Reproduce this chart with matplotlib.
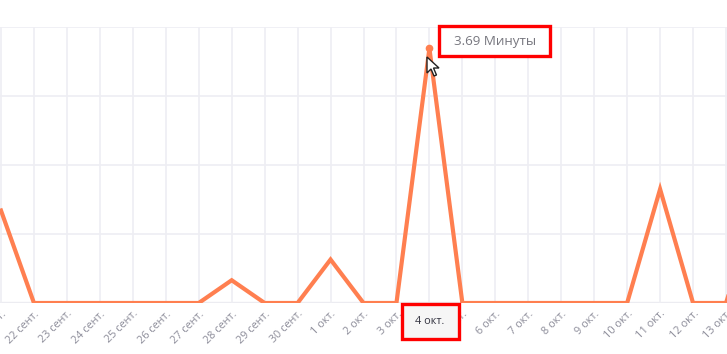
import matplotlib
matplotlib.use("Agg")
import matplotlib.pyplot as plt
from matplotlib.patches import Rectangle, Polygon

plt.rcParams['font.family'] = ['Open Sans', 'DejaVu Sans']

dates = ["21 сент.", "22 сент.", "23 сент.", "24 сент.", "25 сент.", "26 сент.",
         "27 сент.", "28 сент.", "29 сент.", "30 сент.", "1 окт.", "2 окт.",
         "3 окт.", "4 окт.", "5 окт.", "6 окт.", "7 окт.", "8 окт.", "9 окт.",
         "10 окт.", "11 окт.", "12 окт.", "13 окт.", "14 окт."]
minutes = [1.34, 0, 0, 0, 0, 0, 0, 0.33, 0, 0, 0.63, 0, 0, 3.69, 0, 0, 0, 0, 0,
           0, 1.65, 0, 0, 1.5]
highlight_idx = 13
tooltip_text = "3.69 Минуты"

W, H = 727, 354
fig = plt.figure(figsize=(W / 100, H / 100), dpi=100)
ax = fig.add_axes([0, 51 / H, 1, (303 - 27) / H])

x = list(range(len(dates)))
ax.plot(x, minutes, color="#ff7f50", lw=3.0, solid_joinstyle="miter", zorder=3, clip_on=True)
ax.plot([highlight_idx], [minutes[highlight_idx]], 'o', color="#ff7f50", ms=4.5, zorder=4)

ax.set_xlim(-1 / 33, 22 + 1 / 33)
ax.set_ylim(0, 4)
ax.set_xticks(x[:23])
ax.set_xticklabels(dates[:23], rotation=45, ha="right", va="top",
                   rotation_mode="anchor", fontsize=7.8, color="#8c8c99")
ax.tick_params(axis="x", length=0, pad=4)
ax.set_yticks([0, 1, 2, 3, 4])
ax.set_yticklabels([])
ax.tick_params(axis="y", length=0)
ax.grid(True, color="#eeeef3", lw=1.2, zorder=0)
for s in ax.spines.values():
    s.set_visible(False)
ax.axhline(0, color="#e3e3e8", lw=1.6, zorder=1)

def px(xp, yp):
    return xp / W, 1 - yp / H

# tooltip box
bx0, by0 = px(439, 56)
fig.patches.append(Rectangle((bx0, by0), 111 / W, 30 / H, transform=fig.transFigure,
                             facecolor="white", edgecolor="#ff0000", lw=2.4, zorder=10))
tx, ty = px(495, 41)
fig.text(tx, ty, tooltip_text, ha="center", va="center", fontsize=9.6,
         color="#77777f", zorder=11)

# highlighted date box
bx1, by1 = px(402, 339)
fig.patches.append(Rectangle((bx1, by1), 57 / W, 35 / H, transform=fig.transFigure,
                             facecolor="#f6f6f6", edgecolor="#ff0000", lw=2.4, zorder=10))
tx2, ty2 = px(430, 322)
fig.text(tx2, ty2, dates[highlight_idx], ha="center", va="center", fontsize=7.8,
         color="#333340", zorder=11)

# mouse cursor
cx, cy = 427, 57
pts = [(0, 0), (0, 16), (4, 12), (7, 19), (9.5, 18), (6.5, 11), (12, 11)]
fig.patches.append(Polygon([px(cx + a, cy + b) for a, b in pts], closed=True,
                           transform=fig.transFigure, facecolor="white",
                           edgecolor="#222222", lw=1.0, zorder=12))

fig.savefig("out.png", dpi=100, facecolor="white")
